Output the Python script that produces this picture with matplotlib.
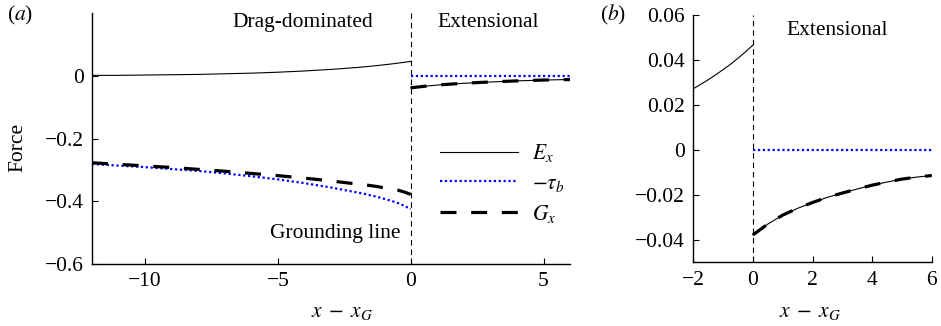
import matplotlib
matplotlib.use("Agg")
import matplotlib.pyplot as plt
from matplotlib.ticker import FuncFormatter

plt.rcParams['font.family'] = ['Liberation Serif', 'DejaVu Serif']
plt.rcParams['mathtext.fontset'] = 'stix'
plt.rcParams['font.size'] = 15.5

# --- data ---
# grounded side (x - x_G < 0)
x_left = [-12, -11, -10, -9, -8, -7, -6, -5, -4, -3, -2.5, -2, -1.75, -1.5,
          -1.25, -1, -0.75, -0.5, -0.25, 0]
ex_left = [0.002, 0.002, 0.003, 0.004, 0.005, 0.007, 0.009, 0.012, 0.016,
           0.021, 0.024, 0.0272, 0.0292, 0.0312, 0.0334, 0.0357, 0.0381,
           0.0408, 0.0436, 0.0466]
tau_left = [-0.281, -0.286, -0.291, -0.297, -0.303, -0.311, -0.320, -0.330,
            -0.342, -0.356, -0.364, -0.372, -0.376, -0.381, -0.386, -0.392,
            -0.398, -0.405, -0.414, -0.425]
gx_left = [-0.277, -0.282, -0.287, -0.292, -0.298, -0.304, -0.311, -0.318,
           -0.326, -0.335, -0.340, -0.345, -0.347, -0.350, -0.353, -0.357,
           -0.360, -0.364, -0.370, -0.378]

# floating side (x - x_G > 0)
x_right = [0, 0.5, 1, 1.5, 2, 2.5, 3, 3.5, 4, 4.5, 5, 5.5, 6]
ex_right = [-0.0378, -0.0330, -0.0290, -0.0260, -0.0234, -0.0211, -0.0192,
            -0.0174, -0.0157, -0.0143, -0.0130, -0.0121, -0.0114]
tau_right = [0, 0, 0, 0, 0, 0, 0, 0, 0, 0, 0, 0, 0]
gx_right = ex_right

ticks_a_x = [-10, -5, 0, 5]
ticks_a_y = [0, -0.2, -0.4, -0.6]
ticks_b_x = [-2, 0, 2, 4, 6]
ticks_b_y = [0.06, 0.04, 0.02, 0, -0.02, -0.04]


def fmt(v, pos):
    s = '%g' % v
    return s.replace('-', '\u2212')


ex_style = dict(color='black', lw=0.8)
tau_style = dict(color='#0000ff', lw=1.6, linestyle=(0, (1, 1.2)))
gx_style = dict(color='black', lw=2.3, linestyle=(0, (5.0, 4.6)))
gl_style = dict(color='black', lw=0.8, linestyle=(0, (5, 3.5)))

fig = plt.figure(figsize=(9.41, 3.26), dpi=100)
ax_a = fig.add_axes([0.0978, 0.1902, 0.508, 0.769])
ax_b = fig.add_axes([0.7368, 0.1954, 0.2533, 0.7586])

for ax in (ax_a, ax_b):
    ax.spines['top'].set_visible(False)
    ax.spines['right'].set_visible(False)
    for sp in ('left', 'bottom'):
        ax.spines[sp].set_linewidth(1.0)
    ax.tick_params(direction='in', length=4, width=0.8, pad=6, labelsize=15.5)
    ax.xaxis.set_major_formatter(FuncFormatter(fmt))
    ax.yaxis.set_major_formatter(FuncFormatter(fmt))
    ax.axvline(0, **gl_style)

# (a)
ax_a.plot(x_left, ex_left, label=r'$E_x$', **ex_style)
ax_a.plot(x_right, ex_right, **ex_style)
ax_a.plot(x_left, tau_left, label=r'$-\tau_b$', **tau_style)
ax_a.plot(x_right, tau_right, **tau_style)
ax_a.plot(x_left, gx_left, label=r'$G_x$', **gx_style)
ax_a.plot(x_right, gx_right, **gx_style)
ax_a.set_xlim(-12, 6)
ax_a.set_ylim(-0.6, 0.2)
ax_a.set_xticks(ticks_a_x)
ax_a.set_yticks(ticks_a_y)
ax_a.text(-4.05, 0.172, 'Drag-dominated', ha='center', va='center')
ax_a.text(2.93, 0.172, 'Extensional', ha='center', va='center')
ax_a.text(-2.83, -0.504, 'Grounding line', ha='center', va='center')
leg = ax_a.legend(loc='upper left', bbox_to_anchor=(0.728, 0.485), frameon=False,
                  handlelength=3.6, handletextpad=0.65, labelspacing=0.42,
                  borderpad=0, borderaxespad=0, fontsize=15.5)

# (b)
ax_b.plot(x_left, ex_left, **ex_style)
ax_b.plot(x_right, ex_right, **ex_style)
ax_b.plot(x_right, tau_right, **tau_style)
ax_b.plot(x_right, gx_right, **gx_style)
ax_b.set_xlim(-2, 6)
ax_b.set_ylim(-0.05, 0.06)
ax_b.set_xticks(ticks_b_x)
ax_b.set_yticks(ticks_b_y)
ax_b.text(2.82, 0.0533, 'Extensional', ha='center', va='center')

fig.text(18 / 941, 1 - 147 / 326, 'Force', rotation=90, ha='center', va='center')
fig.text(342 / 941, 1 - 313 / 326, r'$x\;-\;x_G$', ha='center', va='center')
fig.text(810 / 941, 1 - 313 / 326, r'$x\;-\;x_G$', ha='center', va='center')
fig.text(20 / 941, 1 - 15 / 326, r'($a$)', ha='center', va='center')
fig.text(613 / 941, 1 - 15 / 326, r'($b$)', ha='center', va='center')

fig.savefig('out.png', dpi=100)
